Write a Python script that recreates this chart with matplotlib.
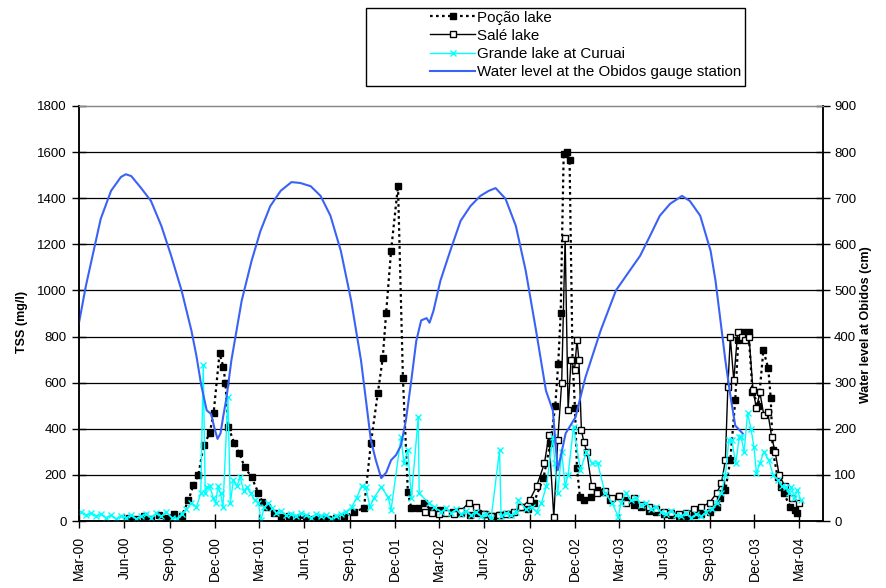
import matplotlib
matplotlib.use('Agg')
import matplotlib.pyplot as plt
import matplotlib.dates as mdates
import pandas as pd
from matplotlib.patches import Rectangle

plt.rcParams['font.family'] = ['Liberation Sans', 'DejaVu Sans']

# ---------------- data ----------------
pocao_dates = ["2000-06-10","2000-06-25","2000-07-10","2000-07-25","2000-08-10","2000-08-25","2000-09-10","2000-09-25",
    "2000-10-09","2000-10-19","2000-10-29","2000-11-09","2000-11-21","2000-11-29","2000-12-11","2000-12-19","2000-12-23",
    "2000-12-29","2001-01-10","2001-01-20","2001-01-31","2001-02-14","2001-02-28","2001-03-08","2001-03-18","2001-03-31",
    "2001-04-14","2001-05-01","2001-05-18","2001-06-05","2001-06-20","2001-07-05","2001-07-20","2001-08-05","2001-08-20",
    "2001-09-10","2001-09-30","2001-10-14","2001-10-28","2001-11-07","2001-11-14","2001-11-24","2001-12-08","2001-12-18",
    "2001-12-28","2002-01-04","2002-01-18","2002-01-30","2002-02-13","2002-03-04","2002-03-30","2002-04-15","2002-05-04",
    "2002-05-20","2002-06-03","2002-06-18","2002-07-03","2002-07-23","2002-08-13","2002-08-28","2002-09-09","2002-09-29",
    "2002-10-13","2002-10-23","2002-10-29","2002-11-03","2002-11-09","2002-11-15","2002-11-21","2002-11-27","2002-12-02",
    "2002-12-06","2002-12-12","2002-12-20","2003-01-03","2003-01-15","2003-01-29","2003-02-12","2003-03-01","2003-03-15",
    "2003-04-01","2003-04-15","2003-05-01","2003-05-15","2003-06-01","2003-06-15","2003-07-01","2003-07-15","2003-08-01",
    "2003-08-15","2003-09-01","2003-09-15","2003-09-23","2003-10-03","2003-10-13","2003-10-23","2003-10-29","2003-11-07",
    "2003-11-19","2003-11-27","2003-12-09","2003-12-19","2003-12-29","2004-01-03","2004-01-07","2004-01-17","2004-01-23",
    "2004-01-29","2004-02-12","2004-02-22","2004-02-26"]
pocao_tss = [15,8,20,10,25,15,30,20,
    90,156,200,330,380,467,727,667,597,
    407,337,294,234,190,121,82,61,35,
    17,20,13,15,9,12,9,15,17,
    39,56,337,554,705,904,1173,1454,619,
    125,56,56,78,48,48,40,35,26,
    35,30,22,26,30,61,50,78,186,
    337,500,683,904,1590,1600,1565,700,489,
    229,104,91,104,134,125,91,110,90,
    70,60,45,40,30,25,20,20,25,
    30,40,60,100,134,264,523,783,820,
    818,560,500,740,662,532,307,190,147,
    121,61,48,35]

sale_dates = ["2002-02-01","2002-02-15","2002-03-01","2002-03-15","2002-04-01","2002-04-15","2002-05-01","2002-05-15",
    "2002-06-01","2002-06-15","2002-07-01","2002-07-15","2002-08-01","2002-08-15","2002-09-01","2002-09-15","2002-10-01",
    "2002-10-10","2002-10-20","2002-10-28","2002-11-05","2002-11-12","2002-11-18","2002-11-24","2002-12-01","2002-12-06",
    "2002-12-10","2002-12-15","2002-12-20","2002-12-26","2003-01-05","2003-01-15","2003-02-01","2003-02-15","2003-03-01",
    "2003-03-15","2003-04-01","2003-04-15","2003-05-01","2003-05-15","2003-06-01","2003-06-15","2003-07-01","2003-07-15",
    "2003-08-01","2003-08-15","2003-09-01","2003-09-15","2003-09-25","2003-10-03","2003-10-08","2003-10-13","2003-10-20",
    "2003-10-28","2003-11-05","2003-11-12","2003-11-20","2003-11-28","2003-12-05","2003-12-12","2003-12-20","2003-12-28",
    "2004-01-05","2004-01-12","2004-01-20","2004-02-01","2004-02-15","2004-03-01"]
sale_tss = [40,35,30,35,30,45,80,60,
    30,20,25,30,40,60,90,150,250,
    372,17,350,600,1229,480,700,653,783,
    697,394,342,299,150,120,130,100,110,
    80,100,70,60,50,40,35,30,35,
    50,60,80,120,164,264,580,796,610,
    820,800,783,800,567,489,558,459,472,
    363,300,200,150,100,80]

grande_dates = ["2000-03-05","2000-03-15","2000-03-25","2000-04-05","2000-04-15","2000-04-25","2000-05-05","2000-05-15",
    "2000-05-25","2000-06-05","2000-06-15","2000-06-25","2000-07-05","2000-07-15","2000-07-25","2000-08-05","2000-08-15",
    "2000-08-25","2000-09-05","2000-09-15","2000-09-25","2000-10-05","2000-10-15","2000-10-25","2000-11-03","2000-11-08",
    "2000-11-12","2000-11-16","2000-11-22","2000-11-28","2000-12-03","2000-12-08","2000-12-13","2000-12-18","2000-12-28",
    "2001-01-02","2001-01-08","2001-01-15","2001-01-22","2001-01-29","2001-02-05","2001-02-12","2001-02-20","2001-02-28",
    "2001-03-05","2001-03-12","2001-03-20","2001-03-28","2001-04-05","2001-04-15","2001-04-25","2001-05-05","2001-05-15",
    "2001-05-25","2001-06-05","2001-06-15","2001-06-25","2001-07-05","2001-07-15","2001-07-25","2001-08-05","2001-08-15",
    "2001-08-25","2001-09-05","2001-09-15","2001-09-25","2001-10-04","2001-10-12","2001-10-20","2001-11-04","2001-11-18",
    "2001-11-24","2001-12-14","2001-12-20","2001-12-28","2002-01-04","2002-01-18","2002-01-20","2002-02-08","2002-02-20",
    "2002-03-05","2002-03-15","2002-03-25","2002-04-05","2002-04-15","2002-04-25","2002-05-05","2002-05-15","2002-05-25",
    "2002-06-05","2002-06-15","2002-07-02","2002-07-05","2002-07-15","2002-07-25","2002-08-05","2002-08-09","2002-08-25",
    "2002-09-05","2002-09-15","2002-09-25","2002-10-05","2002-10-18","2002-10-22","2002-10-28","2002-11-05","2002-11-12",
    "2002-11-18","2002-11-29","2002-12-13","2002-12-25","2003-01-05","2003-01-17","2003-02-01","2003-02-15","2003-02-28",
    "2003-03-05","2003-03-15","2003-03-25","2003-04-05","2003-04-15","2003-04-25","2003-05-05","2003-05-15","2003-05-25",
    "2003-06-05","2003-06-15","2003-06-25","2003-07-05","2003-07-15","2003-07-25","2003-08-05","2003-08-15","2003-08-25",
    "2003-09-05","2003-09-15","2003-09-25","2003-10-03","2003-10-10","2003-10-16","2003-10-24","2003-10-31","2003-11-04",
    "2003-11-10","2003-11-17","2003-11-24","2003-11-30","2003-12-05","2003-12-12","2003-12-20","2003-12-30","2004-01-08",
    "2004-01-18","2004-01-26","2004-02-02","2004-02-09","2004-02-14","2004-02-20","2004-02-26","2004-03-04"]
grande_tss = [40,25,35,20,30,15,25,10,
    20,15,25,10,20,30,15,35,20,
    40,15,10,30,50,80,60,120,675,
    121,147,150,100,78,150,120,60,537,
    78,177,150,190,130,147,120,91,80,
    4,60,78,56,35,45,25,30,20,
    35,25,15,30,20,25,10,20,30,
    40,60,100,150,147,60,100,147,104,
    48,363,251,307,100,450,121,78,60,
    40,55,35,50,30,45,25,40,20,
    30,15,307,20,35,25,40,91,50,
    60,40,80,150,363,251,120,300,150,
    200,407,221,300,251,251,120,80,17,
    80,120,90,100,70,80,50,60,40,
    30,45,25,20,35,15,30,20,40,
    50,80,120,200,350,350,250,363,363,
    300,467,400,320,208,250,300,264,200,
    177,150,147,120,147,100,134,90]

level_dates = ["2000-03-01","2000-03-15","2000-04-14","2000-05-05","2000-05-25","2000-06-04","2000-06-15","2000-07-05",
    "2000-07-25","2000-08-15","2000-09-04","2000-09-25","2000-10-15","2000-10-25","2000-11-04","2000-11-15","2000-11-24",
    "2000-12-01","2000-12-07","2000-12-13","2000-12-19","2000-12-25","2001-01-04","2001-01-25","2001-02-14","2001-03-04",
    "2001-03-24","2001-04-14","2001-05-06","2001-05-24","2001-06-14","2001-07-04","2001-07-24","2001-08-14","2001-09-04",
    "2001-09-24","2001-10-04","2001-10-14","2001-10-24","2001-11-04","2001-11-14","2001-11-24","2001-12-04","2001-12-14",
    "2001-12-24","2002-01-04","2002-01-14","2002-01-24","2002-02-04","2002-02-10","2002-02-18","2002-03-04","2002-03-24",
    "2002-04-14","2002-05-04","2002-05-24","2002-06-10","2002-06-24","2002-07-14","2002-08-04","2002-08-24","2002-09-14",
    "2002-10-04","2002-10-18","2002-10-28","2002-11-13","2002-12-03","2002-12-23","2003-01-23","2003-02-23","2003-03-23",
    "2003-04-13","2003-05-03","2003-05-23","2003-06-13","2003-07-07","2003-07-23","2003-08-13","2003-09-03","2003-09-13",
    "2003-09-23","2003-10-03","2003-10-13","2003-10-23","2003-11-07"]
level_cm = [430,510,655,716,746,752,748,722,
    694,640,575,500,413,359,294,240,232,
    200,178,190,230,266,348,478,564,629,
    683,716,735,733,726,705,662,586,478,
    348,262,175,132,93,105,132,143,164,
    218,305,390,435,440,430,456,521,586,
    651,683,705,716,722,699,640,543,413,
    283,240,110,190,225,311,413,500,543,
    575,618,662,688,705,694,662,586,521,
    435,348,273,207,190]

y_ticks_left = [0, 200, 400, 600, 800, 1000, 1200, 1400, 1600, 1800]
y_ticks_right = [0, 100, 200, 300, 400, 500, 600, 700, 800, 900]
x_tick_dates = pd.date_range("2000-03-01", "2004-03-01", freq="3MS")

# ---------------- figure ----------------
W, H = 887, 588
fig = plt.figure(figsize=(W / 100, H / 100), dpi=100)
L, R, T, B = 79, 823, 106, 521
ax = fig.add_axes([L / W, 1 - B / H, (R - L) / W, (B - T) / H])
ax2 = ax.twinx()

ax.set_xlim(pd.Timestamp("2000-03-01"), pd.Timestamp("2004-04-18"))
ax.set_ylim(0, 1800)
ax2.set_ylim(0, 900)

for v in y_ticks_left[1:-1]:
    ax.axhline(v, color='black', lw=0.9, zorder=0)

ax.plot(pd.to_datetime(pocao_dates), pocao_tss, color='black', ls=(0, (1.2, 1.5)), lw=1.6,
        marker='s', ms=5, mfc='black', mec='black', label='Poção lake', zorder=3)
ax.plot(pd.to_datetime(sale_dates), sale_tss, color='black', ls='-', lw=1.0,
        marker='s', ms=4.5, mfc='white', mec='black', mew=1.0, label='Salé lake', zorder=4)
ax.plot(pd.to_datetime(grande_dates), grande_tss, color='#00FFFF', ls='-', lw=1.0,
        marker='x', ms=5, mew=1.0, label='Grande lake at Curuai', zorder=5)
ax2.plot(pd.to_datetime(level_dates), level_cm, color='#3A62F5', lw=1.5,
         label='Water level at the Obidos gauge station', zorder=2)

ax.set_yticks(y_ticks_left)
ax.set_yticklabels([str(v) for v in y_ticks_left], fontsize=9.5)
ax2.set_yticks(y_ticks_right)
ax2.set_yticklabels([str(v) for v in y_ticks_right], fontsize=9.5)
ax.set_xticks(x_tick_dates)
ax.xaxis.set_major_formatter(mdates.DateFormatter('%b-%y'))
plt.setp(ax.get_xticklabels(), rotation=90, fontsize=10)

ax.tick_params(axis='y', direction='inout', length=10, width=1, color='black', pad=4)
ax.tick_params(axis='x', direction='inout', length=10, width=1, color='black', pad=6)
ax2.tick_params(axis='y', direction='inout', length=10, width=1, color='black', pad=3)

for a in (ax, ax2):
    a.spines['top'].set_color('#888888')
    a.spines['top'].set_linewidth(0.9)
    a.spines['left'].set_linewidth(1.1)
    a.spines['right'].set_linewidth(1.1)
    a.spines['bottom'].set_linewidth(1.1)

ax.set_ylabel('TSS (mg/l)', fontsize=9, fontweight='bold')
ax.yaxis.set_label_coords((28 - L) / (R - L), (B - 322) / (B - T))
ax2.set_ylabel('Water level at Obidos (cm)', fontsize=9, fontweight='bold')
ax2.yaxis.set_label_coords((860 - L) / (R - L), (B - 325) / (B - T))

# legend
h1, l1 = ax.get_legend_handles_labels()
h2, l2 = ax2.get_legend_handles_labels()
fig.add_artist(Rectangle((366 / W, 1 - 86 / H), (745 - 366) / W, (86 - 8) / H,
                         transform=fig.transFigure, fill=False, ec='black', lw=1.0))
fig.legend(h1 + h2, l1 + l2, loc='upper left', bbox_to_anchor=(424 / W, 1 - 4.5 / H),
           frameon=False, fontsize=10.9, handlelength=3.0, handletextpad=0.1,
           labelspacing=0.28, borderaxespad=0, numpoints=1)

fig.savefig('out.png', dpi=100)
